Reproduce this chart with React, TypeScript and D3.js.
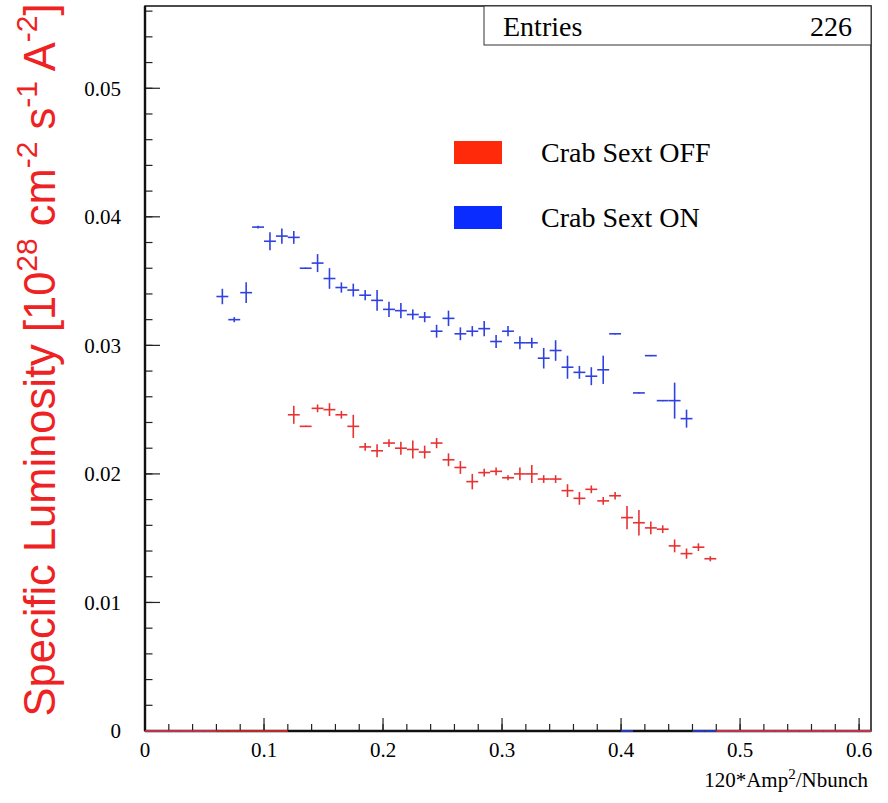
import React from 'react';
import * as d3 from 'd3';

// bin centres (width 0.01), values and errors
const blueBins = [0.065, 0.075, 0.085, 0.095, 0.105, 0.115, 0.125, 0.135, 0.145, 0.155, 0.165, 0.175, 0.185, 0.195, 0.205, 0.215, 0.225, 0.235, 0.245, 0.255, 0.265, 0.275, 0.285, 0.295, 0.305, 0.315, 0.325, 0.335, 0.345, 0.355, 0.365, 0.375, 0.385, 0.395, 0.415, 0.425, 0.435, 0.445, 0.455];
const blueVals = [0.0338, 0.0320, 0.0341, 0.0392, 0.0381, 0.0385, 0.0384, 0.0360, 0.0364, 0.0352, 0.0345, 0.0343, 0.0339, 0.0335, 0.0328, 0.0327, 0.0324, 0.0322, 0.0311, 0.0321, 0.0309, 0.0311, 0.0313, 0.0303, 0.0311, 0.0302, 0.0302, 0.0290, 0.0296, 0.0283, 0.0279, 0.0276, 0.0281, 0.0309, 0.0263, 0.0292, 0.0257, 0.0257, 0.0243];
const blueErrs = [0.0006, 0.0002, 0.0008, 0.0001, 0.0007, 0.0006, 0.0005, 0.00005, 0.0007, 0.0008, 0.0004, 0.0005, 0.0004, 0.0008, 0.0006, 0.0006, 0.0004, 0.0004, 0.0005, 0.0006, 0.0005, 0.0004, 0.0006, 0.0005, 0.0004, 0.0005, 0.0004, 0.0008, 0.0008, 0.0009, 0.0005, 0.0007, 0.0011, 0.00005, 0.00005, 0.00005, 0.00005, 0.0014, 0.0007];

const redBins = [0.125, 0.135, 0.145, 0.155, 0.165, 0.175, 0.185, 0.195, 0.205, 0.215, 0.225, 0.235, 0.245, 0.255, 0.265, 0.275, 0.285, 0.295, 0.305, 0.315, 0.325, 0.335, 0.345, 0.355, 0.365, 0.375, 0.385, 0.395, 0.405, 0.415, 0.425, 0.435, 0.445, 0.455, 0.465, 0.475];
const redVals = [0.0246, 0.0237, 0.0251, 0.0250, 0.0246, 0.0237, 0.0221, 0.0218, 0.0224, 0.0220, 0.0219, 0.0217, 0.0224, 0.0211, 0.0205, 0.0194, 0.0201, 0.0202, 0.0197, 0.0200, 0.0200, 0.0196, 0.0196, 0.0187, 0.0181, 0.0188, 0.0179, 0.0183, 0.0166, 0.0162, 0.0158, 0.0157, 0.0144, 0.0138, 0.0143, 0.0134];
const redErrs = [0.0007, 0.00005, 0.0003, 0.0005, 0.0003, 0.0009, 0.0003, 0.0005, 0.0003, 0.0005, 0.0007, 0.0005, 0.0004, 0.0005, 0.0005, 0.0006, 0.0003, 0.0003, 0.0002, 0.0005, 0.0007, 0.0003, 0.0003, 0.0005, 0.0005, 0.0003, 0.0003, 0.0003, 0.0009, 0.0010, 0.0005, 0.0003, 0.0005, 0.0004, 0.0003, 0.0002];

const xTicks = [0, 0.1, 0.2, 0.3, 0.4, 0.5, 0.6];
const yTicks = [0, 0.01, 0.02, 0.03, 0.04, 0.05];
const legendLabels = ['Crab Sext OFF', 'Crab Sext ON'];
const entries = 226;

const BIN = 0.01;
const NBINS = 61;
const RED = '#e83232';
const BLUE = '#2f42e0';

const serif = '"Liberation Serif", "Times New Roman", serif';
const sans = '"Liberation Sans", Arial, sans-serif';

function Series({ bins, vals, errs, color, x, y }) {
  // empty bins are drawn as flat segments at zero, like ROOT does
  const filled = new Set(bins.map(b => Math.round((b - BIN / 2) / BIN)));
  const empty = d3.range(NBINS).filter(i => !filled.has(i));
  return (
    <g stroke={color} strokeWidth={1.6} fill="none">
      {empty.map(i => (
        <line key={'z' + i} x1={x(i * BIN)} x2={x((i + 1) * BIN)} y1={y(0)} y2={y(0)} />
      ))}
      {bins.map((b, i) => (
        <g key={i}>
          <line x1={x(b - BIN / 2)} x2={x(b + BIN / 2)} y1={y(vals[i])} y2={y(vals[i])} />
          <line x1={x(b)} x2={x(b)} y1={y(vals[i] - errs[i])} y2={y(vals[i] + errs[i])} />
        </g>
      ))}
    </g>
  );
}

export default function App() {
  const W = 888, H = 803;
  const left = 145, right = 871, top = 6, bottom = 731;

  const x = d3.scaleLinear().domain([0, 0.61]).range([left, right]);
  const y = d3.scaleLinear().domain([0, 0.0564]).range([bottom, top]);

  const xMinor = d3.range(0, 0.61, 0.02);
  const yMinor = d3.range(0, 0.0564, 0.002);

  return (
    <svg width={W} height={H} style={{ position: 'absolute', left: 0, top: 0, background: '#fff' }}>
      <rect width={W} height={H} fill="#fff" />

      {/* frame */}
      <rect x={left} y={top} width={right - left} height={bottom - top} fill="none" stroke="#111" strokeWidth={1.5} />

      {/* stats box */}
      <rect x={484} y={top} width={right - 484} height={39} fill="#fff" stroke="#333" strokeWidth={1} />
      <text x={503} y={36} fontFamily={serif} fontSize={28}>Entries</text>
      <text x={852} y={36} fontFamily={serif} fontSize={28} textAnchor="end">{entries}</text>

      {/* y ticks */}
      <g stroke="#222" strokeWidth={1.2}>
        {yMinor.map((v, i) => (
          <line key={i} x1={left} x2={left + 7.5} y1={y(v)} y2={y(v)} />
        ))}
        {yTicks.map(v => (
          <line key={'M' + v} x1={left} x2={left + 15} y1={y(v)} y2={y(v)} />
        ))}
      </g>
      {yTicks.map(v => (
        <text key={v} x={121} y={y(v)} dy="0.35em" textAnchor="end" fontFamily={serif} fontSize={21}>
          {v === 0 ? '0' : d3.format('.2f')(v)}
        </text>
      ))}

      {/* x ticks */}
      <g stroke="#222" strokeWidth={1.2}>
        {xMinor.map((v, i) => (
          <line key={i} x1={x(v)} x2={x(v)} y1={bottom} y2={bottom - 7} />
        ))}
        {xTicks.map(v => (
          <line key={'M' + v} x1={x(v)} x2={x(v)} y1={bottom} y2={bottom - 13} />
        ))}
      </g>
      {xTicks.map(v => (
        <text key={v} x={x(v)} y={757} textAnchor="middle" fontFamily={serif} fontSize={21}>
          {v === 0 ? '0' : d3.format('.1f')(v)}
        </text>
      ))}

      {/* axis lines */}
      <line x1={left} x2={left} y1={top} y2={bottom} stroke="#111" strokeWidth={2.4} />
      <line x1={left} x2={right} y1={bottom} y2={bottom} stroke="#111" strokeWidth={2.4} />

      <Series bins={blueBins} vals={blueVals} errs={blueErrs} color={BLUE} x={x} y={y} />
      <Series bins={redBins} vals={redVals} errs={redErrs} color={RED} x={x} y={y} />

      {/* legend */}
      <rect x={454} y={141} width={48} height={23} fill="#ff2a0a" />
      <text x={541} y={162} fontFamily={serif} fontSize={28}>{legendLabels[0]}</text>
      <rect x={454} y={206} width={48} height={23} fill="#0a2cff" />
      <text x={541} y={227} fontFamily={serif} fontSize={28}>{legendLabels[1]}</text>

      {/* axis titles */}
      <text x={868} y={787} textAnchor="end" fontFamily={serif} fontSize={21}>
        120*Amp<tspan dy={-8} fontSize={15}>2</tspan><tspan dy={8}>/Nbunch</tspan>
      </text>
      <text
        transform={`translate(55,360) rotate(-90)`}
        textAnchor="middle"
        fontFamily={sans}
        fontSize={43.5}
        fill="#ee2222"
      >
        Specific Luminosity [10
        <tspan dy={-18} fontSize={30}>28</tspan>
        <tspan dy={18}> cm</tspan>
        <tspan dy={-18} fontSize={30}>-2</tspan>
        <tspan dy={18}> s</tspan>
        <tspan dy={-18} fontSize={30}>-1</tspan>
        <tspan dy={18}> A</tspan>
        <tspan dy={-18} fontSize={30}>-2</tspan>
        <tspan dy={18}>]</tspan>
      </text>
    </svg>
  );
}
